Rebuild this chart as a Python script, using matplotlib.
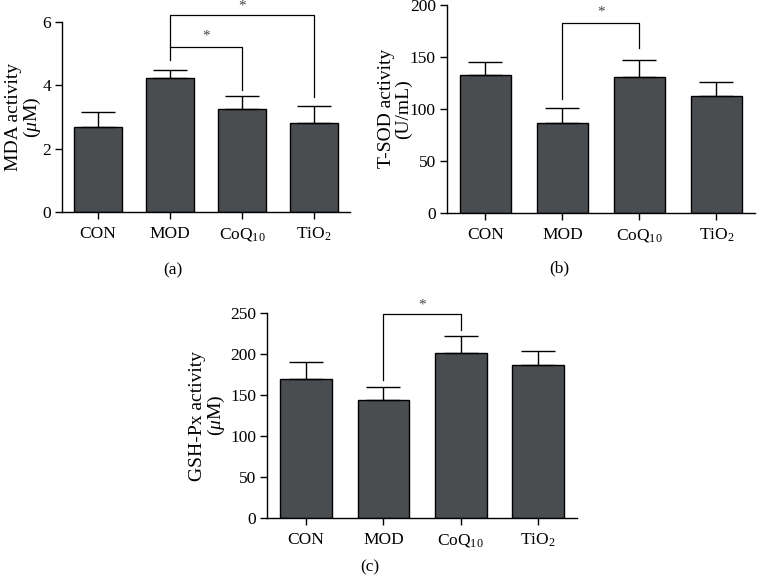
import matplotlib.pyplot as plt
import numpy as np

groups = ['CON', 'MOD', 'CoQ$_{10}$', 'TiO$_2$']

mda_mean = [2.68, 4.22, 3.26, 2.82]
mda_err = [0.47, 0.27, 0.41, 0.54]

sod_mean = [132.3, 86.4, 130.7, 112.7]
sod_err = [12.5, 14.4, 16.0, 13.2]

gsh_mean = [169.4, 144.1, 201.5, 186.5]
gsh_err = [21.5, 16.3, 20.8, 17.8]

plt.rcParams['font.family'] = 'Liberation Serif'
plt.rcParams['mathtext.fontset'] = 'custom'
plt.rcParams['mathtext.rm'] = 'Liberation Serif'
plt.rcParams['mathtext.it'] = 'Liberation Serif:italic'

bar_color = '#4a4d50'
fs = 12.5


def draw_panel(ax, means, errs, ymax, step, ylabel, label_x):
    x = np.arange(len(groups))
    ax.bar(x, means, width=0.67, color=bar_color, edgecolor='black', linewidth=1)
    ax.errorbar(x, means, yerr=[np.zeros(len(errs)), errs], fmt='none',
                ecolor='black', elinewidth=1, capsize=12, capthick=1)
    ax.set_xlim(-0.5, 3.5)
    ax.set_ylim(0, ymax)
    ax.set_yticks(np.arange(0, ymax + step / 2, step))
    ax.set_xticks(x)
    ax.set_xticklabels(groups, fontsize=fs)
    ax.tick_params(axis='y', labelsize=fs, length=5, width=1, pad=3)
    ax.tick_params(axis='x', length=5, width=1, pad=5)
    ax.spines['top'].set_visible(False)
    ax.spines['right'].set_visible(False)
    ax.spines['left'].set_linewidth(1)
    ax.spines['bottom'].set_linewidth(1)
    ax.set_ylabel(ylabel, fontsize=14, linespacing=1.0)
    ax.yaxis.set_label_coords(label_x, 0.5)


def bracket(ax, x1, x2, top, y1, y2, star_y):
    ax.plot([x1, x1, x2, x2], [y1, top, top, y2], color='black', lw=0.9,
            clip_on=False)
    ax.text((x1 + x2) / 2, star_y, '*', ha='center', va='center',
            fontsize=11, color='#444444', clip_on=False)


fig = plt.figure(figsize=(7.64, 5.82), dpi=100)

ax_a = fig.add_axes([0.0812, 0.6357, 0.377, 0.3265])
draw_panel(ax_a, mda_mean, mda_err, 6, 2, 'MDA activity\n($\\mu$M)', -0.066)
bracket(ax_a, 1, 2, 5.22, 4.8, 3.85, 5.55)
bracket(ax_a, 1, 3, 6.23, 5.22, 3.64, 6.5)

ax_b = fig.add_axes([0.585, 0.6345, 0.403, 0.357])
draw_panel(ax_b, sod_mean, sod_err, 200, 50, 'T-SOD activity\n(U/mL)', -0.114)
bracket(ax_b, 1, 2, 183, 109.5, 158.3, 193.5)

ax_c = fig.add_axes([0.35, 0.11, 0.405, 0.3517])
draw_panel(ax_c, gsh_mean, gsh_err, 250, 50, 'GSH-Px activity\n($\\mu$M)', -0.13)
bracket(ax_c, 1, 2, 248.8, 168.5, 229.6, 260)

fig.text(173 / 764, 1 - 270 / 582, '(a)', ha='center', va='center', fontsize=fs)
fig.text(559 / 764, 1 - 268 / 582, '(b)', ha='center', va='center', fontsize=fs)
fig.text(370 / 764, 1 - 567 / 582, '(c)', ha='center', va='center', fontsize=fs)

fig.savefig('out.png', dpi=100, facecolor='w')
